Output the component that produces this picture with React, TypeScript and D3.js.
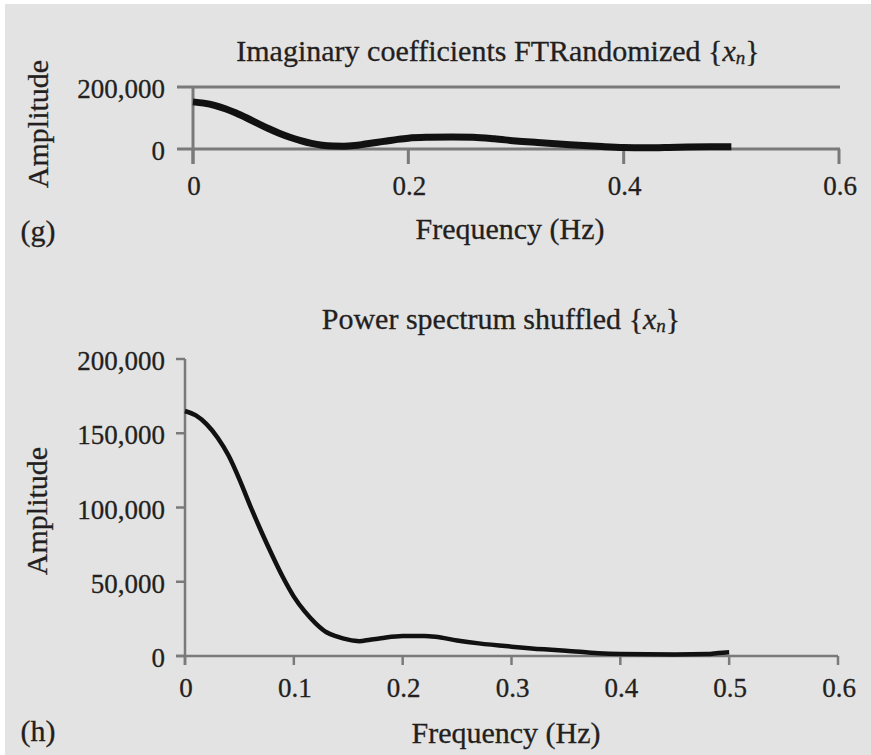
import React from "react";
import * as d3 from "d3";

const topFreq = [0, 0.01, 0.02, 0.03, 0.04, 0.05, 0.06, 0.07, 0.08, 0.09, 0.1, 0.11, 0.12, 0.13, 0.14, 0.15, 0.16, 0.17, 0.18, 0.19, 0.2, 0.22, 0.24, 0.26, 0.28, 0.3, 0.32, 0.35, 0.38, 0.4, 0.42, 0.45, 0.48, 0.5];
const topAmp = [152000, 148000, 141000, 130000, 116000, 100000, 83000, 66000, 51000, 38000, 27000, 18000, 12000, 9500, 9000, 11000, 16000, 21000, 26000, 31000, 35000, 38000, 39000, 38000, 33000, 26000, 21000, 14000, 8000, 5000, 4000, 6000, 7000, 7000];

const botFreq = [0, 0.01, 0.02, 0.03, 0.04, 0.05, 0.06, 0.07, 0.08, 0.09, 0.1, 0.11, 0.12, 0.13, 0.14, 0.15, 0.16, 0.17, 0.18, 0.2, 0.22, 0.23, 0.25, 0.27, 0.3, 0.33, 0.35, 0.38, 0.4, 0.45, 0.48, 0.49, 0.5];
const botAmp = [165000, 162000, 156000, 147000, 135000, 119000, 101000, 84000, 68000, 53000, 40000, 30000, 22000, 16000, 13000, 11000, 10000, 11000, 12000, 13500, 13500, 13000, 10500, 8500, 6300, 4500, 3600, 1800, 1300, 1000, 1300, 2000, 2500];

const topXTicks = [0, 0.2, 0.4, 0.6];
const topYTicks = [0, 200000];
const botXTicks = [0, 0.1, 0.2, 0.3, 0.4, 0.5, 0.6];
const botYTicks = [0, 50000, 100000, 150000, 200000];

const FONT = "'Liberation Serif', 'Times New Roman', serif";
const TXT = "#231f20";
const AXC = "#7a7a7a";
const WORD = 30;
const NUM = 27;
const fmtY = d3.format(",");
const fmtX = (v: number) => (v === 0 ? "0" : d3.format(".1f")(v));

export default function App() {
  const tx = d3.scaleLinear().domain([0, 0.6]).range([193, 839]);
  const ty = d3.scaleLinear().domain([0, 200000]).range([149, 87]);
  const bx = d3.scaleLinear().domain([0, 0.6]).range([185, 838]);
  const by = d3.scaleLinear().domain([0, 200000]).range([656, 359]);

  const topLine = d3
    .line<number>()
    .x((_, i) => tx(topFreq[i]))
    .y((d) => ty(d))
    .curve(d3.curveMonotoneX);
  const botLine = d3
    .line<number>()
    .x((_, i) => bx(botFreq[i]))
    .y((d) => by(d))
    .curve(d3.curveMonotoneX);

  const txtStyle = { stroke: TXT, strokeWidth: 0.3 };

  return (
    <svg
      width={871}
      height={755}
      style={{ position: "absolute", left: 0, top: 0, display: "block" }}
      fontFamily={FONT}
    >
      <rect x={0} y={0} width={871} height={755} fill="#ffffff" />
      <rect x={5} y={4} width={866} height={751} fill="#e3e3e3" />

      {/* ---------- Top panel (g) ---------- */}
      <text x={498} y={50} textAnchor="middle" dominantBaseline="central" fontSize={WORD} fill={TXT} style={txtStyle}>
        Imaginary coefficients FTRandomized {"{"}
        <tspan fontStyle="italic">x</tspan>
        <tspan fontStyle="italic" fontSize={19} dy={7}>n</tspan>
        <tspan dy={-7}>{"}"}</tspan>
      </text>
      {topYTicks.map((t) => (
        <g key={"tyg" + t}>
          <line x1={177} x2={840} y1={ty(t)} y2={ty(t)} stroke={AXC} strokeWidth={3} />
          <text x={165} y={ty(t) + 2} textAnchor="end" dominantBaseline="central" fontSize={NUM} fill={TXT} style={txtStyle}>
            {fmtY(t)}
          </text>
        </g>
      ))}
      <line x1={tx(0)} x2={tx(0)} y1={ty(200000)} y2={164} stroke={AXC} strokeWidth={3} />
      {topXTicks.map((t) => (
        <g key={"txg" + t}>
          <line x1={tx(t)} x2={tx(t)} y1={ty(0)} y2={164} stroke={AXC} strokeWidth={3} />
          <text x={tx(t) + 1} y={186} textAnchor="middle" dominantBaseline="central" fontSize={NUM} fill={TXT} style={txtStyle}>
            {fmtX(t)}
          </text>
        </g>
      ))}
      <path d={topLine(topAmp) || ""} fill="none" stroke="#111" strokeWidth={7} strokeLinejoin="round" />
      <text
        transform="translate(37,124) rotate(-90)"
        textAnchor="middle"
        dominantBaseline="central"
        fontSize={WORD}
        fill={TXT}
        style={txtStyle}
      >
        Amplitude
      </text>
      <text x={38} y={230} textAnchor="middle" dominantBaseline="central" fontSize={WORD} fill={TXT} style={txtStyle}>
        (g)
      </text>
      <text x={510} y={228} textAnchor="middle" dominantBaseline="central" fontSize={WORD} fill={TXT} style={txtStyle}>
        Frequency (Hz)
      </text>

      {/* ---------- Bottom panel (h) ---------- */}
      <text x={501} y={318} textAnchor="middle" dominantBaseline="central" fontSize={WORD} fill={TXT} style={txtStyle}>
        Power spectrum shuffled {"{"}
        <tspan fontStyle="italic">x</tspan>
        <tspan fontStyle="italic" fontSize={19} dy={7}>n</tspan>
        <tspan dy={-7}>{"}"}</tspan>
      </text>
      <line x1={bx(0)} x2={bx(0)} y1={by(200000)} y2={665} stroke={AXC} strokeWidth={2.5} />
      <line x1={176} x2={bx(0.6)} y1={by(0)} y2={by(0)} stroke={AXC} strokeWidth={2.5} />
      {botYTicks.map((t) => (
        <g key={"byg" + t}>
          <line x1={176} x2={bx(0)} y1={by(t)} y2={by(t)} stroke={AXC} strokeWidth={2.5} />
          <text x={165} y={by(t) + 2} textAnchor="end" dominantBaseline="central" fontSize={NUM} fill={TXT} style={txtStyle}>
            {fmtY(t)}
          </text>
        </g>
      ))}
      {botXTicks.map((t) => (
        <g key={"bxg" + t}>
          <line x1={bx(t)} x2={bx(t)} y1={by(0)} y2={665} stroke={AXC} strokeWidth={2.5} />
          <text x={bx(t) + 1} y={688} textAnchor="middle" dominantBaseline="central" fontSize={NUM} fill={TXT} style={txtStyle}>
            {fmtX(t)}
          </text>
        </g>
      ))}
      <path d={botLine(botAmp) || ""} fill="none" stroke="#111" strokeWidth={4.5} strokeLinejoin="round" />
      <text
        transform="translate(36,511) rotate(-90)"
        textAnchor="middle"
        dominantBaseline="central"
        fontSize={WORD}
        fill={TXT}
        style={txtStyle}
      >
        Amplitude
      </text>
      <text x={38} y={730} textAnchor="middle" dominantBaseline="central" fontSize={WORD} fill={TXT} style={txtStyle}>
        (h)
      </text>
      <text x={506} y={732} textAnchor="middle" dominantBaseline="central" fontSize={WORD} fill={TXT} style={txtStyle}>
        Frequency (Hz)
      </text>
    </svg>
  );
}
